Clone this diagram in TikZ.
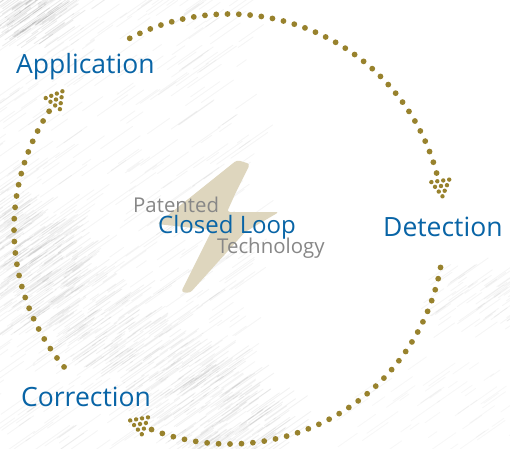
\documentclass[tikz,border=0pt]{standalone}
\usepackage{fontspec}
\setmainfont{Open Sans}
\definecolor{dotc}{RGB}{152,130,45}
\definecolor{lblue}{RGB}{8,100,166}
\definecolor{tgray}{RGB}{135,135,135}
\definecolor{boltc}{RGB}{222,214,190}
\newcommand\dotarrow[3]{%
  \begin{scope}[shift={(#1,#2)},rotate=#3]
    \foreach \k in {0,...,3}{%
      \pgfmathtruncatemacro\nn{3-\k}
      \foreach \j in {0,...,\nn}{%
        \fill[dotc] ({(\k-1)*5.2},{(\j-\nn/2)*6}) circle (2.2);
      }
    }
  \end{scope}}
\begin{document}
\begin{tikzpicture}[x=1pt,y=1pt,
  lbl/.style={text=lblue,inner sep=0,anchor=base west,font=\fontsize{26.5}{30}\selectfont},
  midlbl/.style={text=lblue,inner sep=0,anchor=base west,font=\fontsize{24}{28}\selectfont},
  sublbl/.style={text=tgray,inner sep=0,anchor=base west,font=\fontsize{20.4}{24}\selectfont},
  stroke/.style={line width=0.9pt,black,line cap=round}]
\useasboundingbox (0,0) rectangle (510,448);
\clip (0,0) rectangle (510,448);
\fill[white] (0,0) rectangle (510,448);
% ---- sketchy background texture ----
\pgfmathsetseed{12}
\foreach \i in {1,...,520}{%
  \pgfmathsetmacro\xa{rnd*260-20}
  \pgfmathsetmacro\ya{rnd*460-10}
  \pgfmathsetmacro\ll{10+rnd*35}
  \draw[stroke,opacity=0.04] (\xa,\ya) -- ++(35:\ll);
}
\foreach \i in {1,...,520}{%
  \pgfmathsetmacro\t{rnd*1.2-0.1}
  \pgfmathsetmacro\o{(rnd-0.5)*90}
  \pgfmathsetmacro\xa{20+240*\t+0.636*\o-20}
  \pgfmathsetmacro\ya{198-198*\t+0.771*\o}
  \pgfmathsetmacro\ll{10+rnd*35}
  \draw[stroke,opacity=0.05] (\xa,\ya) -- ++(35:\ll);
}
\foreach \i in {1,...,90}{%
  \pgfmathsetmacro\xa{rnd*70-20}
  \pgfmathsetmacro\ya{400+rnd*55}
  \pgfmathsetmacro\ll{10+rnd*35}
  \draw[stroke,opacity=0.08] (\xa,\ya) -- ++(35:\ll);
}
\foreach \i in {1,...,90}{%
  \pgfmathsetmacro\xa{-20+rnd*90}
  \pgfmathsetmacro\ya{110+rnd*110}
  \pgfmathsetmacro\ll{10+rnd*35}
  \draw[stroke,opacity=0.05] (\xa,\ya) -- ++(35:\ll);
}
\foreach \i in {1,...,70}{%
  \pgfmathsetmacro\xa{420+rnd*100}
  \pgfmathsetmacro\ya{110+rnd*60}
  \pgfmathsetmacro\ll{10+rnd*30}
  \draw[stroke,opacity=0.04] (\xa,\ya) -- ++(35:\ll);
}
\foreach \i in {1,...,50}{%
  \pgfmathsetmacro\xa{330+rnd*180}
  \pgfmathsetmacro\ya{-10+rnd*90}
  \pgfmathsetmacro\ll{10+rnd*30}
  \draw[stroke,opacity=0.03] (\xa,\ya) -- ++(35:\ll);
}
% ---- lightning bolt ----
\fill[boltc,rounded corners=3pt] (237,288) -- (250,284) -- (236,256) -- (227,236)
  -- (279,236) -- (245,216) -- (190,155) -- (181,156) -- (212,218) -- (157,224) -- cycle;
% ---- dotted arcs ----
\foreach \i in {0,...,34}{%
  \fill[dotc] ({229+215*cos(117.5-\i*3.012)},{219+215*sin(117.5-\i*3.012)}) circle (2.9);}
\foreach \i in {0,...,33}{%
  \fill[dotc] ({229+215*cos(-10.3-\i*3.055)},{219+215*sin(-10.3-\i*3.055)}) circle (2.9);}
\foreach \i in {0,...,24}{%
  \fill[dotc] ({229+215*cos(219.9-\i*3.046)},{219+215*sin(219.9-\i*3.046)}) circle (2.9);}
% ---- arrowheads ----
\dotarrow{441}{262}{-82}
\dotarrow{140}{24}{160}
\dotarrow{56}{348.5}{52}
% ---- labels ----
\node[lbl] (app) at (16,374) {Application};
\node[lbl] (det) at (383,212) {Detection};
\node[lbl] (cor) at (21,42) {Correction};
\node[sublbl] (pat) at (133,236) {Patented};
\node[midlbl] (clo) at (158,215) {Closed Loop};
\node[sublbl] (tec) at (217,195) {Technology};
\end{tikzpicture}
\end{document}
